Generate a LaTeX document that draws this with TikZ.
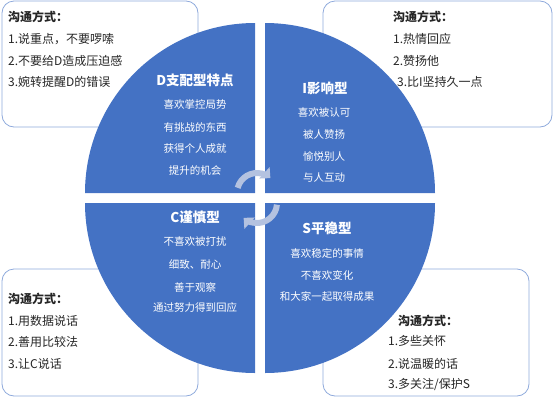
\documentclass[tikz,border=0pt]{standalone}
\usepackage{fontspec}
\setmainfont{Noto Sans CJK SC}
\usetikzlibrary{arrows.meta}
\definecolor{quadblue}{HTML}{4472C4}
\definecolor{boxline}{HTML}{8FAADC}
\definecolor{arcblue}{HTML}{B4C2E0}
\definecolor{txtdark}{HTML}{262626}
\begin{document}
\begin{tikzpicture}[
					x=1pt, y=-1pt,
					line cap=round,
					line join=round,
					tipbox/.style={draw=boxline, line width=0.8pt, rounded corners=12pt, fill=white},
					quad/.style={fill=quadblue},
					way/.style={anchor=west, inner sep=0pt, text=txtdark, font=\fontsize{12}{14}\selectfont},
					waytitle/.style={way, font=\fontsize{12}{14}\selectfont\bfseries},
					typetitle/.style={text=white, inner sep=0pt, font=\fontsize{13.5}{16}\selectfont\bfseries},
					typeline/.style={text=white, inner sep=0pt, font=\fontsize{10.5}{12}\selectfont},
					turn/.style={draw=arcblue, line width=6pt, line cap=butt, -{Triangle[length=8pt,width=15pt]}}
					]
					\useasboundingbox (0,0) rectangle (554,402);
					
					% 四个圆角框
					\draw[tipbox] (2,1) rectangle (198,127);
					\draw[tipbox] (323,1) rectangle (552,127);
					\draw[tipbox] (2,269) rectangle (198,396);
					\draw[tipbox] (323,269) rectangle (529,396);
					
					% 四个扇形的圆心
					\coordinate (cD) at (255,193);
					\coordinate (cI) at (265,193);
					\coordinate (cC) at (255,203);
					\coordinate (cS) at (265,203);
					
					% 四个扇形
					\fill[quad] (cD) -- ++(180:170) arc[start angle=180, end angle=270, radius=170] -- cycle;
					\fill[quad] (cI) -- ++(270:170) arc[start angle=270, end angle=360, radius=170] -- cycle;
					\fill[quad] (cS) -- ++(0:170) arc[start angle=0, end angle=90, radius=170] -- cycle;
					\fill[quad] (cC) -- ++(90:170) arc[start angle=90, end angle=180, radius=170] -- cycle;
					
					% 中间的循环箭头
					\coordinate (up) at (257,193);
					\coordinate (down) at (257,203);
					\draw[turn] (up) ++(195:20) arc[start angle=195, end angle=312, radius=20];
					\draw[turn] (down) ++(5:20) arc[start angle=5, end angle=132, radius=20];
					
					% D支配型
					\node[typetitle] (Dt) at (195,80) {D支配型特点};
					\node[typeline] (D1) at (195,105) {喜欢掌控局势};
					\node[typeline] (D2) at (195,127) {有挑战的东西};
					\node[typeline] (D3) at (195,149) {获得个人成就};
					\node[typeline] (D4) at (195,170) {提升的机会};
					
					% I影响型
					\node[typetitle] (It) at (325,88) {I影响型};
					\node[typeline] (I1) at (324,113) {喜欢被认可};
					\node[typeline] (I2) at (324,135) {被人赞扬};
					\node[typeline] (I3) at (324,157) {愉悦别人};
					\node[typeline] (I4) at (324,178) {与人互动};
					
					% C谨慎型
					\node[typetitle] (Ct) at (195,217) {C谨慎型};
					\node[typeline] (C1) at (195,242) {不喜欢被打扰};
					\node[typeline] (C2) at (195,264) {细致、耐心};
					\node[typeline] (C3) at (195,287) {善于观察};
					\node[typeline] (C4) at (195,307) {通过努力得到回应};
					
					% S平稳型
					\node[typetitle] (St) at (327,228) {S平稳型};
					\node[typeline] (S1) at (327,253) {喜欢稳定的事情};
					\node[typeline] (S2) at (327,275) {不喜欢变化};
					\node[typeline] (S3) at (327,297) {和大家一起取得成果};
					
					% 沟通方式 左上
					\node[waytitle] (wD) at (8,17) {沟通方式：};
					\node[way] (wD1) at (8,39) {1.说重点，不要啰嗦};
					\node[way] (wD2) at (8,61) {2.不要给D造成压迫感};
					\node[way] (wD3) at (8,82) {3.婉转提醒D的错误};
					
					% 沟通方式 右上
					\node[waytitle] (wI) at (393,17) {沟通方式：};
					\node[way] (wI1) at (393,39) {1.热情回应};
					\node[way] (wI2) at (393,61) {2.赞扬他};
					\node[way] (wI3) at (397,82) {3.比I坚持久一点};
					
					% 沟通方式 左下
					\node[waytitle] (wC) at (8,299) {沟通方式：};
					\node[way] (wC1) at (8,321) {1.用数据说话};
					\node[way] (wC2) at (8,342) {2.善用比较法};
					\node[way] (wC3) at (8,364) {3.让C说话};
					
					% 沟通方式 右下
					\node[waytitle] (wS) at (398,321) {沟通方式：};
					\node[way] (wS1) at (388,341) {1.多些关怀};
					\node[way] (wS2) at (388,364) {2.说温暖的话};
					\node[way] (wS3) at (388,385) {3.多关注/保护S};
					
				\end{tikzpicture}
\end{document}
